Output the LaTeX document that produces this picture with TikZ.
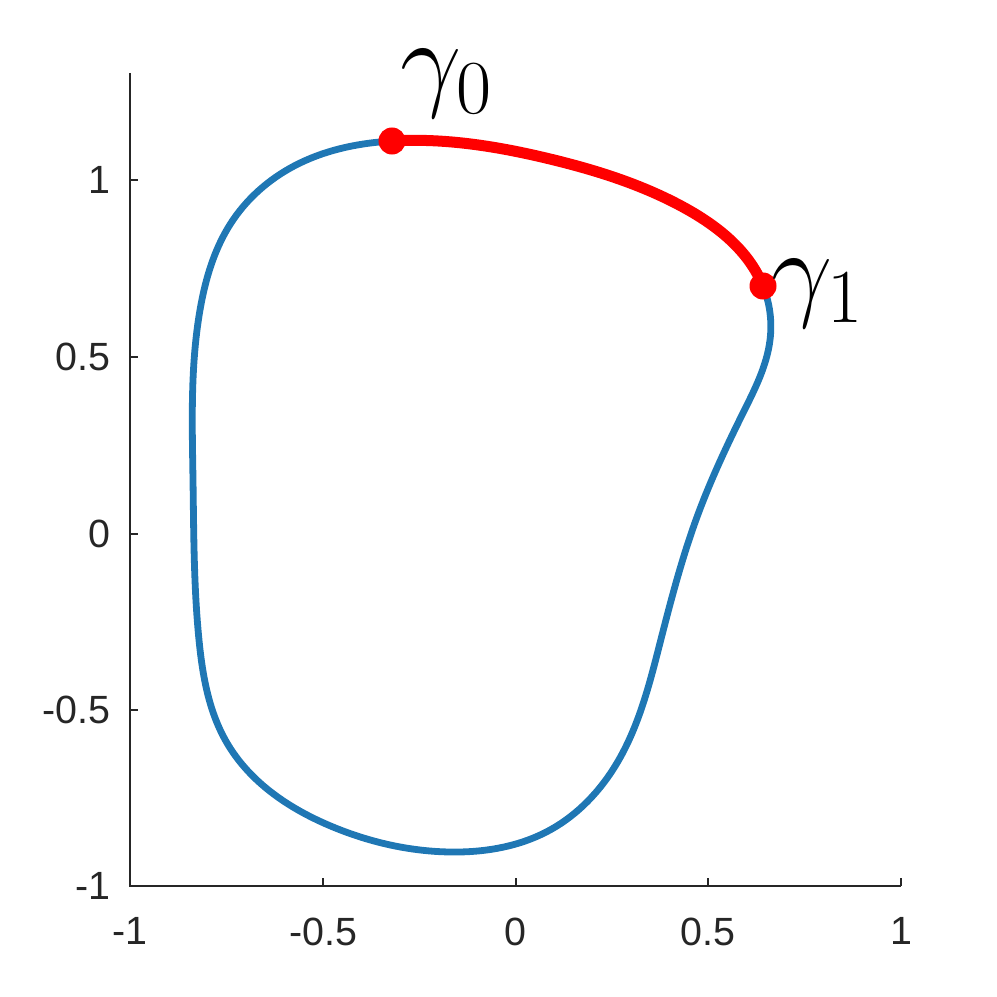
\RequirePackage{fix-cm}
\documentclass[tikz,border=0pt]{standalone}
\usepackage{fontspec}
\setsansfont{Liberation Sans}
\usetikzlibrary{hobby}
\definecolor{mblue}{RGB}{31,119,180}
\definecolor{axgray}{RGB}{38,38,38}
\begin{document}
\begin{tikzpicture}[x=0.01cm,y=-0.01cm,
  axisline/.style={draw=axgray,line width=0.02cm},
  ticklab/.style={font=\sffamily\fontsize{11.2}{13}\selectfont,text=axgray,inner sep=0pt},
  curve/.style={draw=mblue,line width=0.068cm,line join=round},
  redarc/.style={draw=red,line width=0.11cm,line join=round},
  dot/.style={circle,fill=red,inner sep=0pt,minimum size=0.27cm},
  glab/.style={inner sep=0pt,anchor=base west,font=\fontsize{31}{36}\selectfont}]
\useasboundingbox (0,0) rectangle (997,997);
% axes
\draw[axisline] (130,73) -- (130,886) -- (901,886);
\foreach \x/\t in {130/-1,323/-0.5,515.5/0,708/0.5,901/1}{
  \draw[axisline] (\x,886) -- (\x,878);
  \node[ticklab,anchor=north] at (\x,917) {\t};
}
\foreach \y/\t in {886/-1,710/-0.5,533.5/0,357/0.5,180/1}{
  \draw[axisline] (130,\y) -- (138,\y);
  \node[ticklab,anchor=east] at (111,\y) {\t};
}
% closed curve
\draw[curve,use Hobby shortcut,closed=true]
 (392,141) .. (550,159) .. (683,207) .. (763,286) .. (770,340) .. (743,413)
 .. (697,517) .. (660,643) .. (617,763) .. (550,830) .. (450,852) .. (333,827)
 .. (227,743) .. (199,640) .. (193,480) .. (200,310) .. (233,220) .. (300,163);
% red arc: the same curve, clipped to the part between gamma0 and gamma1
\begin{scope}
\clip (392,80) -- (392,200) -- (750,286) -- (820,286) -- (820,80) -- cycle;
\draw[redarc,use Hobby shortcut,closed=true]
 (392,141) .. (550,159) .. (683,207) .. (763,286) .. (770,340) .. (743,413)
 .. (697,517) .. (660,643) .. (617,763) .. (550,830) .. (450,852) .. (333,827)
 .. (227,743) .. (199,640) .. (193,480) .. (200,310) .. (233,220) .. (300,163);
\end{scope}
\node[dot] (g0) at (392,141) {};
\node[dot] (g1) at (763,286) {};
\node[glab] (l0) at (400,97) {$\gamma_0$};
\node[glab] (l1) at (771,306) {$\gamma_1$};
\end{tikzpicture}
\end{document}
